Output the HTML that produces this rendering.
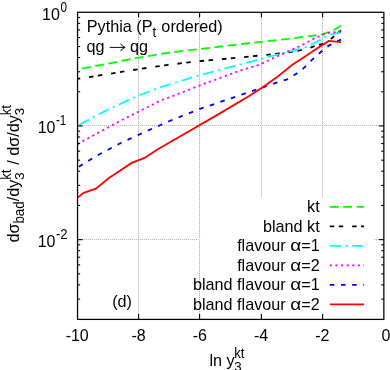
<!DOCTYPE html><html><head><meta charset="utf-8"><style>
html,body{margin:0;padding:0;background:#fff;}svg{display:block;will-change:transform;}text{font-family:"Liberation Sans",sans-serif;fill:#000;}
</style></head><body>
<svg width="390" height="370" viewBox="0 0 390 370">
<rect width="390" height="370" fill="#fff"/>
<g stroke="#eeeeee" stroke-width="1" fill="none">
<line x1="138.5" y1="13" x2="138.5" y2="319.1"/>
<line x1="199.5" y1="13" x2="199.5" y2="319.1"/>
<line x1="261.5" y1="13" x2="261.5" y2="319.1"/>
<line x1="322.5" y1="13" x2="322.5" y2="319.1"/>
</g><g stroke="#b4b4b4" stroke-width="1" stroke-dasharray="1 1" fill="none">
<line x1="138.5" y1="13" x2="138.5" y2="319.1"/>
<line x1="199.5" y1="13" x2="199.5" y2="319.1"/>
<line x1="261.5" y1="13" x2="261.5" y2="319.1"/>
<line x1="322.5" y1="13" x2="322.5" y2="319.1"/>
</g><g stroke="#f3f3f3" stroke-width="1" fill="none">
<line x1="78" y1="125.5" x2="383.85" y2="125.5"/>
<line x1="78" y1="239.5" x2="383.85" y2="239.5"/>
</g><g stroke="#bababa" stroke-width="1" stroke-dasharray="1 1" fill="none">
<line x1="78" y1="125.5" x2="383.85" y2="125.5"/>
<line x1="78" y1="239.5" x2="383.85" y2="239.5"/>
</g>
<rect x="200.4" y="197.3" width="172.8" height="121" fill="#fff"/>
<polyline points="77.5,69.6 95.7,66.0 138.8,57.6 170.0,52.5 199.3,49.1 250.0,43.0 288.6,38.8 304.6,36.7 322.5,34.2 328.8,32.1 334.9,29.5 341.1,25.5" fill="none" stroke="#00ff00" stroke-width="1.8" stroke-dasharray="8.95 4.46" stroke-dashoffset="8.75"/>
<polyline points="77.5,78.9 138.8,69.1 170.0,64.6 199.3,61.2 230.0,58.4 260.0,55.5 288.6,52.4 304.3,49.5 316.6,45.6 322.5,43.8 328.8,41.0 334.9,35.5 341.1,30.4" fill="none" stroke="#000000" stroke-width="1.8" stroke-dasharray="4.5 4.45 4.5 8.9" stroke-dashoffset="10.7"/>
<polyline points="77.5,126.0 95.7,115.7 121.4,103.4 138.1,95.7 160.0,87.3 199.3,75.3 260.0,59.3 275.7,55.0 288.6,51.9 304.3,47.8 316.6,41.7 328.8,35.0 341.1,32.3" fill="none" stroke="#00ffff" stroke-width="1.8" stroke-dasharray="11.2 4.45 2.25 4.45" stroke-dashoffset="20.4"/>
<polyline points="77.5,144.0 95.7,134.2 121.4,120.3 138.1,111.9 161.3,100.2 170.0,97.2 199.3,85.6 240.0,70.6 260.0,64.5 275.7,57.0 288.6,51.1 301.4,45.5 314.3,38.5 322.5,35.0 328.8,32.8 341.1,31.8" fill="none" stroke="#ff00ff" stroke-width="1.8" stroke-dasharray="2.25 3.35" stroke-dashoffset="0"/>
<polyline points="77.5,167.6 95.7,156.3 121.4,142.7 138.1,135.0 170.0,120.8 199.3,109.2 250.0,91.7 261.6,87.9 273.1,83.8 288.6,78.9 301.4,70.4 311.7,60.1 322.5,50.5 328.8,45.6 341.1,39.5" fill="none" stroke="#0000ff" stroke-width="1.8" stroke-dasharray="4.6 6.55" stroke-dashoffset="9.65"/>
<polyline points="77.5,197.6 83.6,192.9 95.9,188.6 108.6,178.3 121.4,169.7 131.7,162.9 138.1,160.3 144.6,157.9 157.4,149.5 170.0,142.2 217.8,114.6 250.0,95.6 261.6,87.9 275.7,78.1 292.4,64.8 304.3,57.0 316.6,48.7 328.8,40.9 341.1,42.1" fill="none" stroke="#ff0000" stroke-width="1.8"/>
<g stroke="#000" stroke-width="1.1" fill="none">
<line x1="138.60" y1="319.1" x2="138.60" y2="314.1"/>
<line x1="138.60" y1="12.3" x2="138.60" y2="17.3"/>
<line x1="199.60" y1="319.1" x2="199.60" y2="314.1"/>
<line x1="199.60" y1="12.3" x2="199.60" y2="17.3"/>
<line x1="261.40" y1="319.1" x2="261.40" y2="314.1"/>
<line x1="261.40" y1="12.3" x2="261.40" y2="17.3"/>
<line x1="322.60" y1="319.1" x2="322.60" y2="314.1"/>
<line x1="322.60" y1="12.3" x2="322.60" y2="17.3"/>
<line x1="77.55" y1="125.97" x2="82.55" y2="125.97"/>
<line x1="383.85" y1="125.97" x2="378.85" y2="125.97"/>
<line x1="77.55" y1="239.65" x2="82.55" y2="239.65"/>
<line x1="383.85" y1="239.65" x2="378.85" y2="239.65"/>
<line x1="77.55" y1="91.75" x2="80.14999999999999" y2="91.75"/>
<line x1="383.85" y1="91.75" x2="381.25" y2="91.75"/>
<line x1="77.55" y1="71.74" x2="80.14999999999999" y2="71.74"/>
<line x1="383.85" y1="71.74" x2="381.25" y2="71.74"/>
<line x1="77.55" y1="57.54" x2="80.14999999999999" y2="57.54"/>
<line x1="383.85" y1="57.54" x2="381.25" y2="57.54"/>
<line x1="77.55" y1="46.52" x2="80.14999999999999" y2="46.52"/>
<line x1="383.85" y1="46.52" x2="381.25" y2="46.52"/>
<line x1="77.55" y1="37.52" x2="80.14999999999999" y2="37.52"/>
<line x1="383.85" y1="37.52" x2="381.25" y2="37.52"/>
<line x1="77.55" y1="29.91" x2="80.14999999999999" y2="29.91"/>
<line x1="383.85" y1="29.91" x2="381.25" y2="29.91"/>
<line x1="77.55" y1="23.32" x2="80.14999999999999" y2="23.32"/>
<line x1="383.85" y1="23.32" x2="381.25" y2="23.32"/>
<line x1="77.55" y1="17.50" x2="80.14999999999999" y2="17.50"/>
<line x1="383.85" y1="17.50" x2="381.25" y2="17.50"/>
<line x1="77.55" y1="205.43" x2="80.14999999999999" y2="205.43"/>
<line x1="383.85" y1="205.43" x2="381.25" y2="205.43"/>
<line x1="77.55" y1="185.41" x2="80.14999999999999" y2="185.41"/>
<line x1="383.85" y1="185.41" x2="381.25" y2="185.41"/>
<line x1="77.55" y1="171.21" x2="80.14999999999999" y2="171.21"/>
<line x1="383.85" y1="171.21" x2="381.25" y2="171.21"/>
<line x1="77.55" y1="160.19" x2="80.14999999999999" y2="160.19"/>
<line x1="383.85" y1="160.19" x2="381.25" y2="160.19"/>
<line x1="77.55" y1="151.19" x2="80.14999999999999" y2="151.19"/>
<line x1="383.85" y1="151.19" x2="381.25" y2="151.19"/>
<line x1="77.55" y1="143.58" x2="80.14999999999999" y2="143.58"/>
<line x1="383.85" y1="143.58" x2="381.25" y2="143.58"/>
<line x1="77.55" y1="136.99" x2="80.14999999999999" y2="136.99"/>
<line x1="383.85" y1="136.99" x2="381.25" y2="136.99"/>
<line x1="77.55" y1="131.17" x2="80.14999999999999" y2="131.17"/>
<line x1="383.85" y1="131.17" x2="381.25" y2="131.17"/>
<line x1="77.55" y1="299.08" x2="80.14999999999999" y2="299.08"/>
<line x1="383.85" y1="299.08" x2="381.25" y2="299.08"/>
<line x1="77.55" y1="284.88" x2="80.14999999999999" y2="284.88"/>
<line x1="383.85" y1="284.88" x2="381.25" y2="284.88"/>
<line x1="77.55" y1="273.86" x2="80.14999999999999" y2="273.86"/>
<line x1="383.85" y1="273.86" x2="381.25" y2="273.86"/>
<line x1="77.55" y1="264.86" x2="80.14999999999999" y2="264.86"/>
<line x1="383.85" y1="264.86" x2="381.25" y2="264.86"/>
<line x1="77.55" y1="257.25" x2="80.14999999999999" y2="257.25"/>
<line x1="383.85" y1="257.25" x2="381.25" y2="257.25"/>
<line x1="77.55" y1="250.66" x2="80.14999999999999" y2="250.66"/>
<line x1="383.85" y1="250.66" x2="381.25" y2="250.66"/>
<line x1="77.55" y1="244.85" x2="80.14999999999999" y2="244.85"/>
<line x1="383.85" y1="244.85" x2="381.25" y2="244.85"/>
</g>
<rect x="77.55" y="12.3" width="306.30" height="307.10" fill="none" stroke="#000" stroke-width="1.25"/>
<text x="77.2" y="341" font-size="16" text-anchor="middle">-10</text>
<text x="138.5" y="341" font-size="16" text-anchor="middle">-8</text>
<text x="199.8" y="341" font-size="16" text-anchor="middle">-6</text>
<text x="261.0" y="341" font-size="16" text-anchor="middle">-4</text>
<text x="322.3" y="341" font-size="16" text-anchor="middle">-2</text>
<text x="385.9" y="341" font-size="16" text-anchor="middle">0</text>
<text x="66.9" y="19.55" font-size="16" text-anchor="end">10<tspan font-size="14" textLength="6.5" lengthAdjust="spacingAndGlyphs" dx="0.5" dy="-7.5">0</tspan></text>
<text x="66.3" y="132.72" font-size="16" text-anchor="end">10<tspan font-size="14" textLength="10.3" lengthAdjust="spacingAndGlyphs" dx="0.5" dy="-8.0">-1</tspan></text>
<text x="67.6" y="247.20" font-size="16" text-anchor="end">10<tspan font-size="14" textLength="11.6" lengthAdjust="spacingAndGlyphs" dx="0.5" dy="-8.0">-2</tspan></text>
<text x="209.5" y="365.7" font-size="16.2">ln y<tspan dx="-0.7" font-size="1"> </tspan><tspan font-size="14.0" textLength="10.2" lengthAdjust="spacingAndGlyphs" dy="-8.1">kt</tspan><tspan font-size="13.6" textLength="7.4" lengthAdjust="spacingAndGlyphs" dx="-10.2" dy="13.4">3</tspan></text>
<text transform="translate(18.8,242.6) rotate(-90)" font-size="16.2">d&#963;<tspan font-size="14.6" textLength="22.3" lengthAdjust="spacingAndGlyphs" dy="5.2">bad</tspan><tspan dy="-5.2">/dy</tspan><tspan font-size="14.0" textLength="10.2" lengthAdjust="spacingAndGlyphs" dy="-8.1">kt</tspan><tspan font-size="13.6" textLength="7.4" lengthAdjust="spacingAndGlyphs" dx="-10.2" dy="13.4">3</tspan><tspan dy="-5.3" dx="7.6">/</tspan><tspan dx="4.4">d&#963;/dy</tspan><tspan font-size="14.0" textLength="10.2" lengthAdjust="spacingAndGlyphs" dy="-8.1">kt</tspan><tspan font-size="13.6" textLength="7.4" lengthAdjust="spacingAndGlyphs" dx="-10.2" dy="13.4">3</tspan></text>
<text x="86.8" y="31.7" font-size="16.2">Pythia (P<tspan font-size="15" textLength="3.7" lengthAdjust="spacingAndGlyphs" dy="5.2">t</tspan><tspan dy="-5.2" dx="0.7"> ordered)</tspan></text>
<text x="86.5" y="51.6" font-size="16.2">qg <tspan fill="none">&#8594;</tspan> <tspan x="130.1">qg</tspan></text>
<path d="M109.7,47.4 H124.6 M120.6,43.7 Q121.8,46.4 125.2,47.4 Q121.8,48.4 120.6,51.1" fill="none" stroke="#000" stroke-width="0.95"/>
<text x="112.2" y="307" font-size="16.2">(d)</text>
<text x="319.7" y="212.1" font-size="16.2" text-anchor="end">kt</text>
<line x1="329.8" y1="206.95" x2="364.1" y2="206.95" stroke="#00ff00" stroke-width="1.75" stroke-dasharray="8.95 4.46"/>
<text x="319.7" y="231.6" font-size="16.2" text-anchor="end">bland kt</text>
<line x1="329.8" y1="226.45" x2="364.1" y2="226.45" stroke="#000000" stroke-width="1.75" stroke-dasharray="4.5 4.45 4.5 8.9"/>
<text x="319.7" y="251.1" font-size="16.2" text-anchor="end">flavour <tspan textLength="11" lengthAdjust="spacingAndGlyphs">&#945;</tspan>=1</text>
<line x1="329.8" y1="245.95" x2="364.1" y2="245.95" stroke="#00ffff" stroke-width="1.75" stroke-dasharray="11.2 4.45 2.25 4.45"/>
<text x="319.7" y="270.6" font-size="16.2" text-anchor="end">flavour <tspan textLength="11" lengthAdjust="spacingAndGlyphs">&#945;</tspan>=2</text>
<line x1="329.8" y1="265.45" x2="364.1" y2="265.45" stroke="#ff00ff" stroke-width="1.75" stroke-dasharray="2.25 3.35"/>
<text x="319.7" y="290.1" font-size="16.2" text-anchor="end">bland flavour <tspan textLength="11" lengthAdjust="spacingAndGlyphs">&#945;</tspan>=1</text>
<line x1="329.8" y1="284.95" x2="364.1" y2="284.95" stroke="#0000ff" stroke-width="1.75" stroke-dasharray="4.6 6.55"/>
<text x="319.7" y="309.6" font-size="16.2" text-anchor="end">bland flavour <tspan textLength="11" lengthAdjust="spacingAndGlyphs">&#945;</tspan>=2</text>
<line x1="329.8" y1="304.45" x2="364.1" y2="304.45" stroke="#ff0000" stroke-width="1.75"/>
</svg></body></html>
